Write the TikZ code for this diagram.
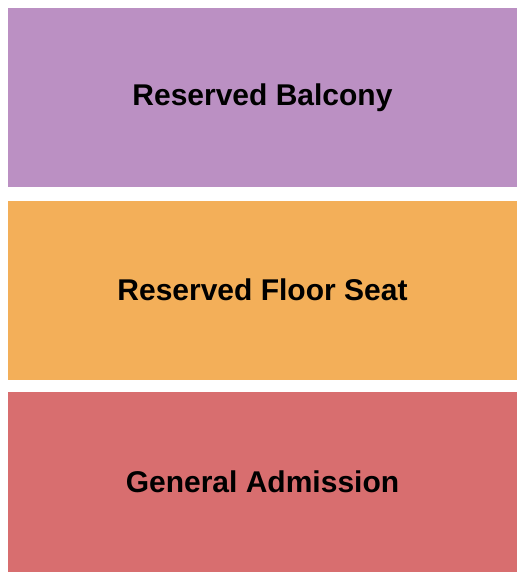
\documentclass[tikz,border=0pt]{standalone}
\usepackage{fontspec}
\setmainfont{Liberation Sans}
\definecolor{balc}{HTML}{BB90C3}
\definecolor{floorc}{HTML}{F3AF59}
\definecolor{gac}{HTML}{D86E6F}
\begin{document}
\begin{tikzpicture}[x=1pt,y=-1pt,
  section/.style={inner sep=0pt,outer sep=0pt,anchor=base,font=\fontsize{30}{34}\selectfont\bfseries,text=black}]
\useasboundingbox (0,0) rectangle (525,580);
\fill[balc] (8,8) rectangle (517,187);
\fill[floorc] (8,201) rectangle (517,380);
\fill[gac] (8,392) rectangle (517,572);
\node[section] (balcony) at (262.5,106) {Reserved Balcony};
\node[section] (floor) at (262.5,300) {Reserved Floor Seat};
\node[section] (ga) at (262.5,492) {General Admission};
\end{tikzpicture}
\end{document}
